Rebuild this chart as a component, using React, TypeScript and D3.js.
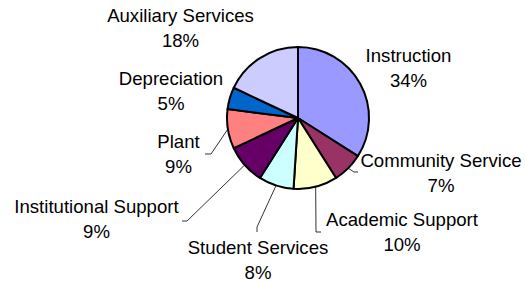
import * as d3 from 'd3';
import { useMemo } from 'react';

// Data
const categories = [
  'Instruction',
  'Community Service',
  'Academic Support',
  'Student Services',
  'Institutional Support',
  'Plant',
  'Depreciation',
  'Auxiliary Services',
];
const shares = [34, 7, 10, 8, 9, 9, 5, 18];
const sliceColors = ['#9999FF', '#993366', '#FFFFCC', '#CCFFFF', '#660066', '#FF8080', '#0066CC', '#CCCCFF'];

// Layout
const WIDTH = 526;
const HEIGHT = 282;
const CENTER = { x: 298, y: 118 };
const RADIUS = 71;
const FONT_SIZE = 18.6;
const LINE_GAP = 24.5;
// label centre x / first baseline y, per slice
const LABEL_POS: [number, number][] = [
  [408.5, 62],
  [441, 167],
  [402, 226],
  [258, 254],
  [96.5, 213],
  [178.5, 148],
  [171, 85],
  [180.5, 22],
];
// leader line bends (null = no leader)
const LEADERS: ([number, number][] | null)[] = [
  null,
  [[354, 172], [358, 172]],
  [[316, 232], [321, 232]],
  [[257, 227], [257, 232]],
  [[187, 221], [182, 221]],
  [[211, 154], [205, 154]],
  null,
  null,
];

const PieChart = () => {
  const arcs = useMemo(() => {
    const pie = d3.pie<number>().sort(null).value((d) => d);
    return pie(shares);
  }, []);

  const arcGen = d3.arc<d3.PieArcDatum<number>>().innerRadius(0).outerRadius(RADIUS);

  const total = d3.sum(shares);

  return (
    <svg
      width={WIDTH}
      height={HEIGHT}
      style={{ position: 'absolute', left: 0, top: 0, background: '#fff' }}
      fontFamily="Arial, 'Liberation Sans', sans-serif"
      fontSize={FONT_SIZE}
    >
      <g transform={`translate(${CENTER.x},${CENTER.y})`}>
        {arcs.map((a, i) => (
          <path key={i} d={arcGen(a) ?? ''} fill={sliceColors[i]} stroke="#000" strokeWidth={2} strokeLinejoin="round" />
        ))}
      </g>
      {arcs.map((a, i) => {
        const pts = LEADERS[i];
        if (!pts) return null;
        const mid = (a.startAngle + a.endAngle) / 2;
        const start: [number, number] = [CENTER.x + RADIUS * Math.sin(mid), CENTER.y - RADIUS * Math.cos(mid)];
        const line = d3.line()([start, ...pts]);
        return <path key={`l${i}`} d={line ?? ''} fill="none" stroke="#000" strokeWidth={0.8} />;
      })}
      {categories.map((name, i) => {
        const [x, y] = LABEL_POS[i];
        const pct = d3.format('.0%')(shares[i] / total);
        return (
          <text key={`t${i}`} x={x} y={y} textAnchor="middle" fill="#000">
            <tspan x={x} y={y}>{name}</tspan>
            <tspan x={x} y={y + LINE_GAP}>{pct}</tspan>
          </text>
        );
      })}
    </svg>
  );
};

export default function App() {
  return <PieChart />;
}
